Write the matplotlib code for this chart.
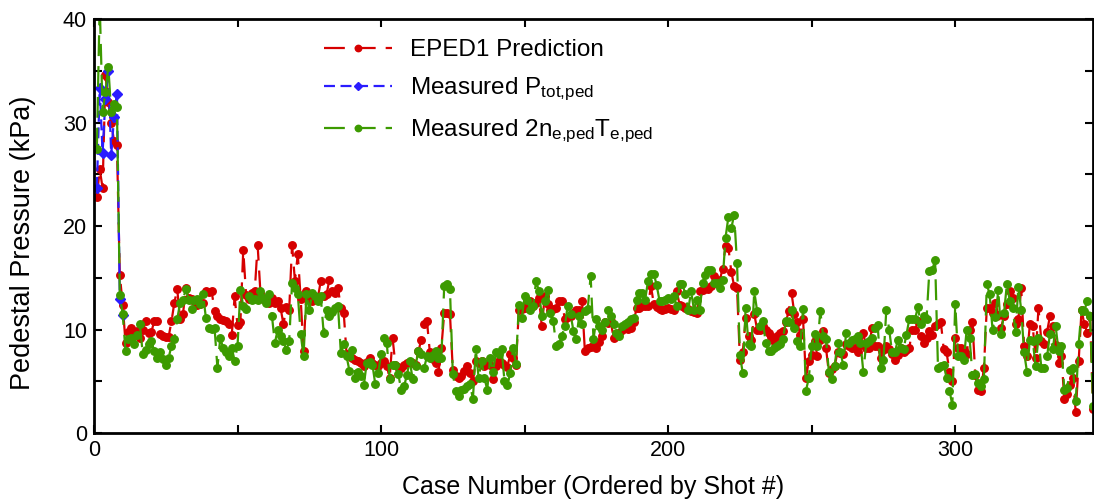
import numpy as np
import matplotlib
matplotlib.use("Agg")
import matplotlib.pyplot as plt
from matplotlib.ticker import MultipleLocator

plt.rcParams['font.family'] = ['Liberation Sans', 'DejaVu Sans']
plt.rcParams['mathtext.fontset'] = 'custom'
plt.rcParams['mathtext.rm'] = 'Liberation Sans'
plt.rcParams['mathtext.it'] = 'Liberation Sans:italic'
plt.rcParams['lines.scale_dashes'] = False

# EPED1 predicted pedestal pressure (kPa), one value per case
eped1 = [
    22.8, 25.5, 23.7, 34.6, 32.0, 30.0, 28.2, 27.8, 15.3, 12.4, 8.7,
    9.8, 10.2, 9.5, 9.9, 9.2, 10.0, 10.8, 9.7,
    9.8, 10.8, 10.8, 9.6, 9.4, 9.3, 9.3, 10.8, 12.6, 13.9,
    11.0, 11.5, 14.0, 13.1, 13.0, 12.8, 12.4, 12.5, 12.6, 13.7,
    13.6, 13.7, 11.8, 11.3, 11.0, 10.9, 10.8, 10.5, 9.5, 13.2,
    10.4, 10.7, 17.7, 13.3, 13.0, 13.5, 13.7, 18.2, 13.5, 13.0,
    12.8, 12.6, 13.1, 12.6, 12.8, 12.1, 10.5, 12.2, 11.9, 18.2,
    14.7, 17.3, 13.0, 7.9, 13.7, 13.0, 12.8, 13.0, 13.1, 14.7,
    13.2, 13.4, 14.8, 13.7, 13.5, 14.0, 12.1, 11.6, 7.6, 7.5,
    7.3, 7.1, 7.0, 6.8, 6.5, 6.9, 7.3, 6.8, 6.6, 6.5,
    6.8, 7.0, 6.5, 5.3, 9.2, 6.6, 6.4, 6.3, 6.6, 6.8,
    6.9, 6.8, 6.6, 7.9, 9.0, 10.5, 10.8, 7.8, 7.2, 6.8,
    5.9, 8.2, 11.6, 11.6, 11.5, 6.1, 5.5, 5.3, 5.5, 6.0,
    6.5, 5.8, 5.0, 7.0, 6.8, 7.0, 6.5, 6.7, 6.6, 5.2,
    6.5, 7.0, 6.8, 6.6, 6.4, 7.6, 7.3, 6.6, 11.9, 12.0,
    12.1, 12.5, 12.8, 12.3, 12.6, 13.1, 10.3, 13.2, 12.5, 11.9,
    12.0, 12.1, 12.8, 12.8, 11.0, 11.2, 11.3, 11.6, 11.9, 11.9,
    12.8, 7.9, 8.2, 8.3, 8.4, 8.2, 8.8, 9.4, 10.7, 10.6,
    10.8, 9.2, 9.5, 9.7, 10.0, 10.3, 10.1, 10.2, 10.7, 12.1,
    12.1, 12.3, 12.3, 12.3, 14.2, 12.5, 12.2, 12.0, 11.9, 12.0,
    12.1, 12.0, 11.9, 13.7, 12.4, 12.3, 12.1, 12.0, 11.8, 11.7,
    11.6, 13.7, 13.8, 14.0, 13.9, 14.2, 15.2, 14.5, 14.8, 15.9,
    18.1, 17.9, 15.6, 14.2, 14.0, 7.1, 7.8, 11.1, 9.4, 9.0,
    11.5, 10.0, 10.0, 10.3, 10.0, 9.7, 9.3, 8.9, 9.4, 9.7,
    9.9, 10.7, 11.8, 13.5, 11.5, 10.7, 9.5, 11.0, 5.3, 7.0,
    7.5, 8.9, 7.4, 9.0, 9.9, 8.2, 5.8, 6.2, 6.5, 7.8,
    7.7, 7.6, 8.6, 8.4, 8.2, 8.2, 7.8, 8.5, 9.7, 8.2,
    8.2, 10.2, 8.4, 8.4, 7.3, 8.0, 8.4, 8.1, 7.6, 7.1,
    7.5, 8.2, 7.8, 8.0, 8.2, 10.0, 10.0, 10.8, 9.4, 8.7,
    9.2, 9.9, 9.5, 10.3, 10.5, 10.7, 8.1, 7.8, 5.9, 5.0,
    9.2, 8.2, 8.2, 8.0, 7.6, 10.0, 10.7, 5.6, 4.2, 4.1,
    6.3, 12.1, 12.1, 11.6, 12.6, 11.4, 10.2, 11.3, 12.5, 13.7,
    13.1, 10.5, 11.0, 14.0, 8.4, 7.4, 10.5, 10.3, 7.3, 12.1,
    8.9, 8.6, 9.8, 11.3, 10.3, 8.5, 6.8, 7.4, 3.3, 3.8,
    4.6, 5.3, 2.0, 7.0, 11.9, 10.5, 9.7, 11.3, 2.3,
]

# measured total pedestal pressure, first cases only
p_tot = [23.7, 33.4, 27.1, 32.3, 35.0, 26.9, 30.6, 32.8, 13.0, 11.4]

# measured 2 n_e T_e at the pedestal
p_e2 = [
    27.5, 41.5, 31.0, 33.0, 35.4, 31.0, 31.8, 31.5, 13.3, 11.5, 7.9,
    9.1, 9.2, 8.6, 9.5, 10.5, 7.6, 8.0, 8.6,
    8.9, 7.9, 7.3, 7.8, 7.2, 6.6, 7.3, 8.4, 9.1, 11.0,
    12.6, 12.9, 13.9, 12.9, 12.0, 12.9, 13.0, 12.5, 13.4, 11.1,
    10.2, 10.1, 10.2, 6.3, 9.2, 8.2, 7.8, 7.4, 8.2, 7.0,
    8.4, 13.8, 12.3, 12.0, 13.2, 12.9, 13.0, 12.9, 13.7, 13.1,
    12.6, 13.4, 11.3, 8.7, 10.0, 9.4, 8.9, 8.0, 8.9, 14.5,
    14.0, 13.4, 9.6, 7.4, 13.4, 11.9, 13.5, 13.2, 12.8, 13.2,
    9.7, 11.9, 11.3, 11.7, 12.1, 12.3, 7.7, 8.6, 7.4, 6.0,
    8.0, 5.3, 5.9, 5.5, 4.6, 6.8, 6.9, 6.6, 4.7, 5.8,
    7.6, 9.2, 8.7, 5.2, 6.6, 6.6, 5.7, 4.2, 4.5, 5.6,
    7.0, 5.2, 6.5, 7.9, 7.6, 6.3, 7.4, 7.3, 7.5, 7.9,
    7.3, 7.3, 14.2, 14.4, 13.9, 5.7, 4.1, 3.6, 4.2, 4.3,
    4.5, 4.7, 3.3, 8.1, 5.3, 7.0, 5.3, 4.2, 7.3, 5.9,
    7.8, 7.6, 8.1, 5.0, 4.6, 5.8, 8.2, 6.7, 12.4, 11.1,
    13.2, 12.9, 11.9, 12.3, 14.7, 13.7, 11.3, 12.8, 13.8, 11.6,
    10.8, 8.4, 8.6, 9.4, 10.3, 12.3, 11.5, 9.9, 9.1, 11.3,
    10.5, 11.8, 12.0, 15.2, 9.1, 11.0, 10.3, 10.0, 10.7, 11.9,
    11.3, 10.5, 9.7, 9.4, 10.3, 10.5, 10.7, 11.0, 11.1, 12.9,
    13.5, 13.5, 12.9, 14.7, 15.4, 15.4, 14.3, 12.8, 12.8, 12.9,
    13.1, 13.0, 13.2, 12.3, 14.4, 14.4, 13.4, 11.9, 13.7, 11.9,
    12.9, 11.9, 14.5, 15.3, 15.8, 15.8, 14.5, 14.5, 14.0, 14.8,
    18.9, 20.9, 19.8, 21.1, 16.4, 7.5, 5.8, 12.1, 8.6, 8.4,
    13.7, 11.8, 10.3, 10.8, 8.7, 7.9, 7.9, 8.2, 8.4, 8.6,
    9.1, 10.8, 10.7, 11.9, 10.2, 8.9, 8.4, 12.0, 4.1, 5.3,
    8.4, 9.6, 8.4, 11.8, 9.4, 9.1, 5.9, 5.2, 6.5, 8.7,
    7.8, 6.6, 9.7, 8.7, 9.0, 9.1, 9.4, 8.7, 5.9, 8.7,
    8.9, 9.2, 10.2, 10.4, 6.3, 7.1, 11.9, 10.0, 7.8, 7.8,
    9.0, 8.2, 8.1, 9.5, 11.0, 11.0, 11.0, 12.2, 10.5, 11.3,
    11.0, 15.7, 15.8, 16.7, 6.3, 6.5, 6.6, 5.3, 4.1, 2.7,
    12.5, 7.4, 7.4, 7.1, 10.0, 9.2, 5.6, 5.7, 4.8, 4.5,
    5.2, 14.4, 13.4, 10.0, 11.2, 13.8, 9.6, 11.6, 14.4, 12.8,
    12.1, 9.8, 14.1, 11.9, 7.8, 5.9, 9.0, 8.9, 6.5, 9.2,
    6.3, 6.3, 7.4, 9.6, 8.1, 10.3, 7.9, 8.4, 4.2, 4.4,
    6.1, 6.3, 3.1, 8.6, 11.9, 11.8, 12.8, 11.3, 2.6,
]

case_eped = np.arange(1, len(eped1) + 1)
case_tot = np.arange(1, len(p_tot) + 1)
case_e2 = np.arange(1, len(p_e2) + 1)

red = '#d60000'
blue = '#2a1cff'
green = '#3c9a00'

fig = plt.figure(figsize=(10.94, 5.01), dpi=100)
ax = fig.add_axes([0.0859, 0.1357, 0.9132, 0.8258])

long_dash = (0, (15.0, 7.2))
short_dash = (0, (7.9, 4.0))

ax.plot(case_eped, eped1, color=red, lw=1.6, ls=long_dash,
        marker='o', ms=5.4, label='EPED1 Prediction')
ax.plot(case_tot, p_tot, color=blue, lw=1.6, ls=short_dash,
        marker='D', ms=4.8, label=r'Measured P$_{\mathrm{tot{,}ped}}$')
ax.plot(case_e2, p_e2, color=green, lw=1.6, ls=long_dash,
        marker='o', ms=5.4,
        label=r'Measured 2n$_{\mathrm{e{,}ped}}$T$_{\mathrm{e{,}ped}}$')

ax.set_xlim(0, 348)
ax.set_ylim(0, 40)
ax.xaxis.set_major_locator(MultipleLocator(100))
ax.xaxis.set_minor_locator(MultipleLocator(50))
ax.yaxis.set_major_locator(MultipleLocator(10))
ax.yaxis.set_minor_locator(MultipleLocator(5))
ax.tick_params(which='both', direction='in', top=True, right=True,
               length=6, width=1.5, labelsize=15.5, pad=5)
for s in ax.spines.values():
    s.set_linewidth(2)

ax.set_xlabel('Case Number (Ordered by Shot #)', fontsize=18, labelpad=10)
ax.set_ylabel('Pedestal Pressure (kPa)', fontsize=19.5)
ax.yaxis.set_label_coords(-0.058, 0.46)

ax.legend(loc='upper left', bbox_to_anchor=(0.208, 1.005), frameon=False,
          fontsize=17.5, handlelength=2.8, handletextpad=0.75,
          labelspacing=0.6, markerscale=0.85)

fig.savefig('out.png', dpi=100)
